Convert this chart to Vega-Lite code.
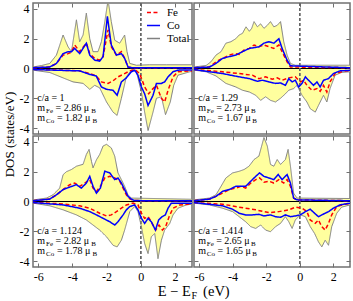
{
"$schema":"https://vega.github.io/schema/vega-lite/v6.json",
"padding":{"left":2,"top":1,"right":0,"bottom":0},
"config":{
 "font":"Liberation Serif",
 "text":{"font":"Liberation Serif","color":"#000"},
 "view":{"stroke":"#707070","strokeWidth":1.5},
 "axis":{"domain":false,"grid":false,"tickColor":"#707070","tickSize":-4,"tickWidth":1,"labelFont":"Liberation Serif","labelFontSize":12,"labelColor":"#000","labelPadding":8,"titleFont":"Liberation Serif","titleFontWeight":"normal","titleFontSize":13,"titleColor":"#000","labelExpr":"replace(datum.label, '\u2212', '-')"},
 "legend":{"symbolType":"stroke","symbolSize":170,"symbolStrokeWidth":1.5,"labelFont":"Liberation Serif","labelFontSize":11,"labelColor":"#000","offset":2,"padding":0,"rowPadding":0,"labelOffset":6}
},
"datasets":{
"tl":[
{"s":"Total","k":"u","x":[-6.3,-5.8,-5.32,-4.93,-4.54,-4.25,-4.05,-3.76,-3.57,-3.37,-3.18,-2.98,-2.79,-2.5,-2.3,-2.1,-1.91,-1.72,-1.52,-1.23,-0.94,-0.8,-0.64,-0.25,0.5,1.5,3.0],"y":[0.1,0.2,0.34,0.9,2.25,1.46,1.13,3.27,1.8,2.25,3.72,2.0,1.13,1.13,1.8,3.15,4.6,3.15,1.9,1.7,2.25,1.13,0.34,0.22,0.25,0.25,0.25]},
{"s":"Total","k":"d","x":[-6.3,-5.32,-4.54,-3.96,-3.37,-2.98,-2.69,-2.4,-2.0,-1.62,-1.38,-1.13,-0.84,-0.55,-0.25,0.04,0.23,0.43,0.72,0.92,1.21,1.45,1.73,1.93,2.18,2.87,3.0],"y":[-0.11,-0.27,-0.63,-0.9,-1.0,-1.4,-1.13,-1.3,-2.25,-2.93,-3.15,-2.0,-0.56,-0.11,-0.22,-1.58,-2.93,-4.17,-2.93,-2.0,-1.9,-3.1,-2.25,-1.13,-0.45,-0.22,-0.2]},
{"s":"Fe","k":"u","x":[-6.3,-5.32,-4.93,-4.54,-4.25,-4.05,-3.86,-3.57,-3.18,-2.98,-2.69,-2.4,-2.2,-1.91,-1.72,-1.42,-1.13,-0.94,-0.74,-0.5,3.0],"y":[0.05,0.1,0.34,0.9,1.0,1.1,1.58,1.13,1.7,1.0,0.68,0.56,0.8,2.6,1.46,0.9,1.13,0.68,0.1,0.05,0.05]},
{"s":"Fe","k":"d","x":[-6.3,-3.57,-2.98,-2.6,-2.3,-1.91,-1.62,-1.33,-1.03,-0.64,-0.35,-0.06,0.23,0.47,0.68,0.92,1.21,1.4,1.6,1.89,2.18,2.87,3.0],"y":[-0.05,-0.16,-0.34,-0.5,-0.9,-1.0,-0.83,-0.56,-0.4,-0.16,-0.07,-0.34,-1.24,-1.7,-1.4,-1.13,-2.0,-2.25,-1.46,-0.56,-0.22,-0.16,-0.16]},
{"s":"Co","k":"u","x":[-6.3,-5.32,-4.93,-4.54,-4.25,-4.05,-3.86,-3.57,-3.18,-2.98,-2.69,-2.4,-2.2,-1.95,-1.72,-1.42,-1.13,-0.94,-0.74,-0.5,3.0],"y":[0.05,0.1,0.34,1.0,1.13,1.13,1.35,1.0,1.7,0.9,0.56,0.5,0.8,3.5,1.58,0.9,1.0,0.68,0.1,0.05,0.05]},
{"s":"Co","k":"d","x":[-6.3,-3.57,-2.98,-2.6,-2.3,-2.0,-1.62,-1.38,-1.13,-0.84,-0.55,-0.35,-0.16,0.04,0.23,0.43,0.72,0.92,1.21,1.4,1.6,1.89,2.18,3.0],"y":[-0.07,-0.16,-0.4,-0.5,-1.24,-1.4,-1.46,-1.8,-0.9,-0.63,-0.22,-0.11,-0.45,-1.24,-1.7,-2.48,-1.8,-1.0,-1.0,-0.9,-0.56,-0.22,-0.11,-0.1]}
],
"tr":[
{"s":"Total","k":"u","x":[-6.3,-5.58,-5.29,-4.99,-4.69,-4.4,-4.1,-3.81,-3.61,-3.41,-3.2,-3.0,-2.86,-2.72,-2.52,-2.33,-2.13,-1.93,-1.74,-1.54,-1.34,-1.14,-0.95,-0.75,-0.55,-0.26,3.0],"y":[0.1,0.2,0.45,0.9,1.13,1.7,1.8,2.0,2.25,2.36,2.8,2.5,2.7,3.15,2.8,3.0,2.7,2.9,3.15,2.8,2.9,3.15,1.8,0.9,0.34,0.22,0.22]},
{"s":"Total","k":"d","x":[-6.3,-5.58,-4.99,-4.4,-3.81,-3.41,-3.0,-2.62,-2.33,-2.03,-1.74,-1.44,-1.14,-0.85,-0.65,-0.36,-0.16,0.14,0.43,0.63,0.93,1.12,1.42,1.62,1.81,2.11,2.5,3.0],"y":[-0.11,-0.22,-0.5,-1.0,-1.24,-1.46,-1.58,-1.8,-2.14,-1.9,-2.14,-2.25,-2.0,-1.7,-1.46,-1.35,-1.13,-1.8,-2.25,-2.7,-2.93,-2.48,-1.8,-2.25,-1.35,-0.45,-0.27,-0.22]},
{"s":"Fe","k":"u","x":[-6.3,-5.38,-4.99,-4.6,-4.2,-3.9,-3.61,-3.31,-3.0,-2.72,-2.43,-2.13,-1.83,-1.54,-1.24,-1.05,-0.75,-0.55,3.0],"y":[0.05,0.1,0.45,0.68,0.9,1.0,0.95,1.24,1.35,1.58,1.46,1.58,1.46,1.35,1.58,1.13,0.45,0.1,0.05]},
{"s":"Fe","k":"d","x":[-6.3,-4.6,-3.61,-2.82,-2.43,-2.03,-1.64,-1.34,-1.05,-0.65,-0.26,0.04,0.24,0.43,0.73,1.03,1.22,1.42,1.62,1.81,2.11,2.7,3.0],"y":[-0.07,-0.22,-0.34,-0.45,-0.68,-0.56,-0.72,-0.63,-0.79,-0.63,-0.56,-0.9,-0.79,-1.13,-1.46,-1.35,-1.53,-1.13,-1.58,-0.9,-0.34,-0.16,-0.15]},
{"s":"Co","k":"u","x":[-6.3,-5.38,-4.99,-4.6,-4.2,-3.81,-3.41,-3.0,-2.72,-2.43,-2.13,-1.83,-1.54,-1.24,-1.05,-0.75,-0.55,3.0],"y":[0.05,0.1,0.34,0.68,0.8,0.9,1.13,1.35,1.4,1.46,1.7,1.8,1.7,2.0,1.35,0.56,0.18,0.05]},
{"s":"Co","k":"d","x":[-6.3,-4.6,-3.61,-3.0,-2.52,-2.23,-1.83,-1.44,-1.14,-0.85,-0.65,-0.45,-0.26,-0.06,0.14,0.34,0.53,0.83,1.03,1.22,1.42,1.72,2.01,2.4,3.0],"y":[-0.07,-0.34,-0.56,-0.68,-0.86,-0.79,-0.9,-1.0,-0.97,-1.13,-0.68,-0.9,-0.79,-1.24,-1.0,-0.56,-0.79,-1.13,-0.9,-1.24,-0.79,-0.68,-0.34,-0.16,-0.12]}
],
"bl":[
{"s":"Total","k":"u","x":[-6.3,-5.52,-5.13,-4.74,-4.54,-4.35,-4.05,-3.76,-3.37,-3.18,-3.02,-2.88,-2.79,-2.59,-2.4,-2.2,-2.0,-1.72,-1.52,-1.33,-1.13,-0.94,-0.74,-0.55,3.0],"y":[0.1,0.23,0.45,0.9,1.8,2.0,2.15,2.37,2.5,3.16,3.5,2.7,2.26,2.8,3.16,3.73,3.84,3.6,3.05,1.92,1.47,1.02,0.45,0.23,0.15]},
{"s":"Total","k":"d","x":[-6.3,-5.32,-4.54,-3.76,-3.18,-2.79,-2.4,-2.0,-1.62,-1.38,-1.13,-0.94,-0.64,-0.35,-0.16,0.04,0.23,0.43,0.62,0.82,1.01,1.21,1.4,1.7,1.89,2.18,2.67,3.0],"y":[-0.11,-0.29,-0.56,-0.9,-1.24,-1.58,-1.92,-2.37,-2.94,-3.05,-2.6,-1.92,-0.68,-0.34,-0.68,-1.69,-2.82,-3.5,-2.37,-2.15,-3.84,-2.6,-1.92,-1.47,-0.9,-0.45,-0.23,-0.18]},
{"s":"Fe","k":"u","x":[-6.3,-5.32,-4.93,-4.54,-4.15,-3.86,-3.57,-3.27,-2.98,-2.79,-2.59,-2.36,-2.1,-1.81,-1.52,-1.23,-1.03,-0.84,-0.64,-0.4,3.0],"y":[0.05,0.16,0.45,0.8,1.13,1.24,1.02,1.24,1.47,0.9,0.68,1.02,1.58,1.69,1.58,1.36,0.9,0.45,0.18,0.06,0.05]},
{"s":"Fe","k":"d","x":[-6.3,-4.54,-3.57,-2.98,-2.4,-2.0,-1.72,-1.42,-1.13,-0.84,-0.45,-0.16,0.04,0.23,0.43,0.62,0.88,1.07,1.27,1.46,1.66,1.89,2.28,3.0],"y":[-0.07,-0.16,-0.29,-0.45,-0.79,-0.97,-0.9,-0.68,-0.45,-0.23,-0.11,-0.23,-0.79,-1.13,-1.02,-1.36,-1.92,-1.58,-1.92,-1.69,-1.02,-0.45,-0.23,-0.16]},
{"s":"Co","k":"u","x":[-6.3,-5.32,-4.93,-4.54,-4.15,-3.76,-3.47,-3.18,-2.98,-2.79,-2.59,-2.36,-2.1,-1.81,-1.52,-1.33,-1.13,-0.94,-0.74,-0.55,-0.35,3.0],"y":[0.05,0.16,0.45,0.8,0.97,1.13,0.9,1.24,1.69,1.02,0.56,0.9,2.03,1.92,1.47,1.58,1.24,0.8,0.34,0.16,0.06,0.05]},
{"s":"Co","k":"d","x":[-6.3,-4.54,-3.57,-2.98,-2.59,-2.2,-1.81,-1.52,-1.33,-1.03,-0.84,-0.64,-0.35,-0.16,0.04,0.23,0.43,0.62,0.86,1.05,1.25,1.44,1.6,1.79,2.09,3.0],"y":[-0.07,-0.23,-0.45,-0.68,-0.9,-1.13,-1.36,-1.58,-1.36,-0.9,-0.56,-0.34,-0.23,-0.56,-1.13,-1.47,-1.13,-1.36,-1.92,-1.24,-1.02,-0.9,-0.45,-0.11,-0.11,-0.11]}
],
"br":[
{"s":"Total","k":"u","x":[-6.3,-5.38,-4.99,-4.69,-4.4,-4.0,-3.61,-3.31,-3.02,-2.72,-2.43,-2.13,-1.93,-1.74,-1.54,-1.34,-1.14,-0.85,-0.69,-0.55,-0.36,-0.16,3.0],"y":[0.11,0.23,0.45,1.02,1.58,1.92,2.03,2.15,2.37,2.82,3.05,4.3,3.73,2.49,2.37,2.82,2.49,2.82,3.5,2.37,0.56,0.23,0.2]},
{"s":"Total","k":"d","x":[-6.3,-5.38,-4.6,-4.0,-3.61,-3.22,-2.92,-2.62,-2.33,-2.03,-1.74,-1.44,-1.14,-0.85,-0.65,-0.45,-0.26,0.04,0.34,0.63,0.89,1.12,1.32,1.52,1.72,1.91,2.21,2.5,3.0],"y":[-0.11,-0.23,-0.45,-0.68,-1.02,-1.36,-1.69,-1.81,-1.58,-1.92,-2.03,-1.69,-1.47,-1.02,-1.36,-1.81,-1.24,-0.9,-1.02,-1.69,-2.15,-2.71,-3.05,-2.6,-2.94,-1.69,-0.79,-0.38,-0.23]},
{"s":"Fe","k":"u","x":[-6.3,-5.38,-4.99,-4.6,-4.2,-3.81,-3.51,-3.22,-2.92,-2.62,-2.39,-2.13,-1.83,-1.54,-1.24,-0.95,-0.75,-0.55,-0.36,-0.16,3.0],"y":[0.05,0.16,0.34,0.56,0.8,0.9,1.02,0.9,1.24,1.47,1.58,1.3,1.36,1.24,1.47,1.24,1.47,1.02,0.23,0.11,0.05]},
{"s":"Fe","k":"d","x":[-6.3,-4.6,-3.61,-2.62,-1.83,-1.24,-0.65,-0.26,0.14,0.43,0.63,0.93,1.12,1.32,1.52,1.72,1.91,2.21,2.7,3.0],"y":[-0.07,-0.18,-0.38,-0.56,-0.75,-0.68,-0.56,-0.38,-0.45,-0.68,-1.24,-1.47,-1.24,-1.69,-1.92,-1.47,-0.9,-0.34,-0.18,-0.15]},
{"s":"Co","k":"u","x":[-6.3,-5.38,-4.99,-4.6,-4.2,-3.81,-3.51,-3.22,-2.92,-2.62,-2.39,-2.13,-1.83,-1.54,-1.28,-1.05,-0.75,-0.55,-0.36,-0.16,3.0],"y":[0.05,0.16,0.34,0.68,0.8,1.02,1.02,1.02,1.36,1.69,1.92,1.69,1.58,1.47,1.81,1.47,1.81,1.24,0.23,0.11,0.05]},
{"s":"Co","k":"d","x":[-6.3,-4.6,-4.0,-3.61,-3.22,-2.82,-2.43,-2.13,-1.74,-1.44,-1.14,-0.85,-0.55,-0.26,0.04,0.34,0.63,0.89,1.12,1.32,1.52,1.72,2.01,2.4,3.0],"y":[-0.07,-0.29,-0.52,-0.79,-0.9,-0.9,-0.86,-0.97,-0.9,-1.02,-1.06,-0.9,-1.02,-0.97,-0.9,-0.68,-0.52,-0.79,-1.02,-0.9,-0.79,-0.68,-0.45,-0.23,-0.11]}
],
"ann":[
{"p":"tl","z":0,"t":"c/a = 1","tx":-6.05,"ty":-2.2},
{"p":"tl","z":0,"t":"m","tx":-6.05,"ty":-2.88},
{"p":"tl","z":1,"t":"Fe","tx":-5.54,"ty":-2.88},
{"p":"tl","z":0,"t":"= 2.86 μ","tx":-4.98,"ty":-2.88},
{"p":"tl","z":1,"t":"B","tx":-2.9,"ty":-2.88},
{"p":"tl","z":0,"t":"m","tx":-6.05,"ty":-3.56},
{"p":"tl","z":1,"t":"Co","tx":-5.54,"ty":-3.56},
{"p":"tl","z":0,"t":"= 1.82 μ","tx":-4.9,"ty":-3.56},
{"p":"tl","z":1,"t":"B","tx":-2.82,"ty":-3.56},
{"p":"tr","z":0,"t":"c/a = 1.29","tx":-6.05,"ty":-2.2},
{"p":"tr","z":0,"t":"m","tx":-6.05,"ty":-2.88},
{"p":"tr","z":1,"t":"Fe","tx":-5.54,"ty":-2.88},
{"p":"tr","z":0,"t":"= 2.73 μ","tx":-4.98,"ty":-2.88},
{"p":"tr","z":1,"t":"B","tx":-2.9,"ty":-2.88},
{"p":"tr","z":0,"t":"m","tx":-6.05,"ty":-3.56},
{"p":"tr","z":1,"t":"Co","tx":-5.54,"ty":-3.56},
{"p":"tr","z":0,"t":"= 1.67 μ","tx":-4.9,"ty":-3.56},
{"p":"tr","z":1,"t":"B","tx":-2.82,"ty":-3.56},
{"p":"bl","z":0,"t":"c/a = 1.124","tx":-6.05,"ty":-2.2},
{"p":"bl","z":0,"t":"m","tx":-6.05,"ty":-2.88},
{"p":"bl","z":1,"t":"Fe","tx":-5.54,"ty":-2.88},
{"p":"bl","z":0,"t":"= 2.82 μ","tx":-4.98,"ty":-2.88},
{"p":"bl","z":1,"t":"B","tx":-2.9,"ty":-2.88},
{"p":"bl","z":0,"t":"m","tx":-6.05,"ty":-3.56},
{"p":"bl","z":1,"t":"Co","tx":-5.54,"ty":-3.56},
{"p":"bl","z":0,"t":"= 1.78 μ","tx":-4.9,"ty":-3.56},
{"p":"bl","z":1,"t":"B","tx":-2.82,"ty":-3.56},
{"p":"br","z":0,"t":"c/a = 1.414","tx":-6.05,"ty":-2.2},
{"p":"br","z":0,"t":"m","tx":-6.05,"ty":-2.88},
{"p":"br","z":1,"t":"Fe","tx":-5.54,"ty":-2.88},
{"p":"br","z":0,"t":"= 2.65 μ","tx":-4.98,"ty":-2.88},
{"p":"br","z":1,"t":"B","tx":-2.9,"ty":-2.88},
{"p":"br","z":0,"t":"m","tx":-6.05,"ty":-3.56},
{"p":"br","z":1,"t":"Co","tx":-5.54,"ty":-3.56},
{"p":"br","z":0,"t":"= 1.65 μ","tx":-4.9,"ty":-3.56},
{"p":"br","z":1,"t":"B","tx":-2.82,"ty":-3.56},
{"p":"bl","z":2,"t":"E − E","tx":0.99,"ty":-6.35},
{"p":"bl","z":3,"t":"F","tx":2.97,"ty":-6.35},
{"p":"bl","z":2,"t":"(eV)","tx":3.65,"ty":-6.35}
]
},
"concat":[
{"width":159,"height":131,"data":{"name":"tl"},
 "layer":[
  {"transform":[{"filter":"datum.s=='Total'"},{"flatten":["x","y"]}],"mark":{"type":"area","fill":"#ffff9e","clip":true},
   "encoding":{"x":{"field":"x","type":"quantitative","scale":{"domain":[-6.3,3],"nice":false,"zero":false},"axis":{"orient":"bottom","values":[-6,-4,-2,0,2],"labels":false,"title":null}},
    "y":{"field":"y","type":"quantitative","stack":null,"scale":{"domain":[-4.4,4.4],"nice":false},"axis":{"orient":"left","values":[-4,-2,0,2,4],"title":"DOS (states/eV)","titleAnchor":"start","titleAlign":"center","titlePadding":3}},
    "detail":{"field":"k"}}},
  {"mark":{"type":"rule","color":"#000","strokeWidth":1},"encoding":{"y":{"datum":0,"axis":null}}},
  {"mark":{"type":"rule","color":"#666","strokeDash":[3,2],"strokeWidth":1},"encoding":{"x":{"datum":0,"axis":null}}},
  {"transform":[{"filter":"datum.s=='Total'"},{"flatten":["x","y"]}],"mark":{"type":"line","clip":true,"strokeWidth":1},
   "encoding":{"x":{"field":"x","type":"quantitative","axis":null},"y":{"field":"y","type":"quantitative","axis":null},"detail":{"field":"k"},
    "color":{"field":"s","type":"nominal","title":null,"scale":{"domain":["Fe","Co","Total"],"range":["#ff0000","#0000ff","#808080"]},"legend":{"orient":"top-right"}},
    "strokeDash":{"field":"s","type":"nominal","title":null,"scale":{"domain":["Fe","Co","Total"],"range":[[4,2.5],[1,0],[1,0]]},"legend":{"orient":"top-right"}}}},
  {"transform":[{"filter":"datum.s!='Total'"},{"flatten":["x","y"]}],"mark":{"type":"line","clip":true,"strokeWidth":1.5},
   "encoding":{"x":{"field":"x","type":"quantitative","axis":{"orient":"top","values":[-6,-4,-2,0,2],"labels":false,"title":null}},"y":{"field":"y","type":"quantitative","axis":{"orient":"right","values":[-4,-2,0,2,4],"labels":false,"title":null}},"detail":{"field":"k"},
    "color":{"field":"s","type":"nominal","title":null,"scale":{"domain":["Fe","Co","Total"],"range":["#ff0000","#0000ff","#808080"]},"legend":{"orient":"top-right"}},
    "strokeDash":{"field":"s","type":"nominal","title":null,"scale":{"domain":["Fe","Co","Total"],"range":[[4,2.5],[1,0],[1,0]]},"legend":{"orient":"top-right"}}}},
  {"data":{"name":"ann"},"transform":[{"filter":"datum.p=='tl' && datum.z==0"}],"mark":{"type":"text","align":"left","baseline":"alphabetic","fontSize":10,"font":"Liberation Serif"},
   "encoding":{"x":{"field":"tx","type":"quantitative","axis":null},"y":{"field":"ty","type":"quantitative","axis":null},"text":{"field":"t"}}},
  {"data":{"name":"ann"},"transform":[{"filter":"datum.p=='tl' && datum.z==1"}],"mark":{"type":"text","align":"left","baseline":"alphabetic","fontSize":7,"dy":2,"font":"Liberation Serif"},
   "encoding":{"x":{"field":"tx","type":"quantitative","axis":null},"y":{"field":"ty","type":"quantitative","axis":null},"text":{"field":"t"}}}
 ],
 "resolve":{"axis":{"x":"independent","y":"independent"}}},
{"width":156,"height":131,"data":{"name":"tr"},
 "layer":[
  {"transform":[{"filter":"datum.s=='Total'"},{"flatten":["x","y"]}],"mark":{"type":"area","fill":"#ffff9e","clip":true},
   "encoding":{"x":{"field":"x","type":"quantitative","scale":{"domain":[-6.3,3],"nice":false,"zero":false},"axis":{"orient":"bottom","values":[-6,-4,-2,0,2],"labels":false,"title":null}},
    "y":{"field":"y","type":"quantitative","stack":null,"scale":{"domain":[-4.4,4.4],"nice":false},"axis":{"orient":"left","values":[-4,-2,0,2,4],"labels":false,"title":null}},
    "detail":{"field":"k"}}},
  {"mark":{"type":"rule","color":"#000","strokeWidth":1},"encoding":{"y":{"datum":0,"axis":null}}},
  {"mark":{"type":"rule","color":"#666","strokeDash":[3,2],"strokeWidth":1},"encoding":{"x":{"datum":0,"axis":null}}},
  {"transform":[{"filter":"datum.s=='Total'"},{"flatten":["x","y"]}],"mark":{"type":"line","clip":true,"strokeWidth":1},
   "encoding":{"x":{"field":"x","type":"quantitative","axis":null},"y":{"field":"y","type":"quantitative","axis":null},"detail":{"field":"k"},
    "color":{"field":"s","type":"nominal","scale":{"domain":["Fe","Co","Total"],"range":["#ff0000","#0000ff","#808080"]},"legend":null},
    "strokeDash":{"field":"s","type":"nominal","scale":{"domain":["Fe","Co","Total"],"range":[[4,2.5],[1,0],[1,0]]},"legend":null}}},
  {"transform":[{"filter":"datum.s!='Total'"},{"flatten":["x","y"]}],"mark":{"type":"line","clip":true,"strokeWidth":1.5},
   "encoding":{"x":{"field":"x","type":"quantitative","axis":{"orient":"top","values":[-6,-4,-2,0,2],"labels":false,"title":null}},"y":{"field":"y","type":"quantitative","axis":{"orient":"right","values":[-4,-2,0,2,4],"labels":false,"title":null}},"detail":{"field":"k"},
    "color":{"field":"s","type":"nominal","scale":{"domain":["Fe","Co","Total"],"range":["#ff0000","#0000ff","#808080"]},"legend":null},
    "strokeDash":{"field":"s","type":"nominal","scale":{"domain":["Fe","Co","Total"],"range":[[4,2.5],[1,0],[1,0]]},"legend":null}}},
  {"data":{"name":"ann"},"transform":[{"filter":"datum.p=='tr' && datum.z==0"}],"mark":{"type":"text","align":"left","baseline":"alphabetic","fontSize":10,"font":"Liberation Serif"},
   "encoding":{"x":{"field":"tx","type":"quantitative","axis":null},"y":{"field":"ty","type":"quantitative","axis":null},"text":{"field":"t"}}},
  {"data":{"name":"ann"},"transform":[{"filter":"datum.p=='tr' && datum.z==1"}],"mark":{"type":"text","align":"left","baseline":"alphabetic","fontSize":7,"dy":2,"font":"Liberation Serif"},
   "encoding":{"x":{"field":"tx","type":"quantitative","axis":null},"y":{"field":"ty","type":"quantitative","axis":null},"text":{"field":"t"}}}
 ],
 "resolve":{"axis":{"x":"independent","y":"independent"}}},
{"width":159,"height":131,"data":{"name":"bl"},
 "layer":[
  {"transform":[{"filter":"datum.s=='Total'"},{"flatten":["x","y"]}],"mark":{"type":"area","fill":"#ffff9e","clip":true},
   "encoding":{"x":{"field":"x","type":"quantitative","scale":{"domain":[-6.3,3],"nice":false,"zero":false},"axis":{"orient":"bottom","values":[-6,-4,-2,0,2],"labels":true,"title":null}},
    "y":{"field":"y","type":"quantitative","stack":null,"scale":{"domain":[-4.4,4.4],"nice":false},"axis":{"orient":"left","values":[-4,-2,0,2,4],"labels":true,"title":null}},
    "detail":{"field":"k"}}},
  {"mark":{"type":"rule","color":"#000","strokeWidth":1},"encoding":{"y":{"datum":0,"axis":null}}},
  {"mark":{"type":"rule","color":"#666","strokeDash":[3,2],"strokeWidth":1},"encoding":{"x":{"datum":0,"axis":null}}},
  {"transform":[{"filter":"datum.s=='Total'"},{"flatten":["x","y"]}],"mark":{"type":"line","clip":true,"strokeWidth":1},
   "encoding":{"x":{"field":"x","type":"quantitative","axis":null},"y":{"field":"y","type":"quantitative","axis":null},"detail":{"field":"k"},
    "color":{"field":"s","type":"nominal","scale":{"domain":["Fe","Co","Total"],"range":["#ff0000","#0000ff","#808080"]},"legend":null},
    "strokeDash":{"field":"s","type":"nominal","scale":{"domain":["Fe","Co","Total"],"range":[[4,2.5],[1,0],[1,0]]},"legend":null}}},
  {"transform":[{"filter":"datum.s!='Total'"},{"flatten":["x","y"]}],"mark":{"type":"line","clip":true,"strokeWidth":1.5},
   "encoding":{"x":{"field":"x","type":"quantitative","axis":{"orient":"top","values":[-6,-4,-2,0,2],"labels":false,"title":null}},"y":{"field":"y","type":"quantitative","axis":{"orient":"right","values":[-4,-2,0,2,4],"labels":false,"title":null}},"detail":{"field":"k"},
    "color":{"field":"s","type":"nominal","scale":{"domain":["Fe","Co","Total"],"range":["#ff0000","#0000ff","#808080"]},"legend":null},
    "strokeDash":{"field":"s","type":"nominal","scale":{"domain":["Fe","Co","Total"],"range":[[4,2.5],[1,0],[1,0]]},"legend":null}}},
  {"data":{"name":"ann"},"transform":[{"filter":"datum.p=='bl' && datum.z==0"}],"mark":{"type":"text","align":"left","baseline":"alphabetic","fontSize":10,"font":"Liberation Serif"},
   "encoding":{"x":{"field":"tx","type":"quantitative","axis":null},"y":{"field":"ty","type":"quantitative","axis":null},"text":{"field":"t"}}},
  {"data":{"name":"ann"},"transform":[{"filter":"datum.p=='bl' && datum.z==1"}],"mark":{"type":"text","align":"left","baseline":"alphabetic","fontSize":7,"dy":2,"font":"Liberation Serif"},
   "encoding":{"x":{"field":"tx","type":"quantitative","axis":null},"y":{"field":"ty","type":"quantitative","axis":null},"text":{"field":"t"}}},
  {"data":{"name":"ann"},"transform":[{"filter":"datum.p=='bl' && datum.z==2"}],"mark":{"type":"text","align":"left","baseline":"alphabetic","fontSize":14.5,"font":"Liberation Serif"},
   "encoding":{"x":{"field":"tx","type":"quantitative","axis":null},"y":{"field":"ty","type":"quantitative","axis":null},"text":{"field":"t"}}},
  {"data":{"name":"ann"},"transform":[{"filter":"datum.p=='bl' && datum.z==3"}],"mark":{"type":"text","align":"left","baseline":"alphabetic","fontSize":10,"dy":3,"font":"Liberation Serif"},
   "encoding":{"x":{"field":"tx","type":"quantitative","axis":null},"y":{"field":"ty","type":"quantitative","axis":null},"text":{"field":"t"}}}
 ],
 "resolve":{"axis":{"x":"independent","y":"independent"}}},
{"width":156,"height":131,"data":{"name":"br"},
 "layer":[
  {"transform":[{"filter":"datum.s=='Total'"},{"flatten":["x","y"]}],"mark":{"type":"area","fill":"#ffff9e","clip":true},
   "encoding":{"x":{"field":"x","type":"quantitative","scale":{"domain":[-6.3,3],"nice":false,"zero":false},"axis":{"orient":"bottom","values":[-6,-4,-2,0,2],"labels":true,"title":null}},
    "y":{"field":"y","type":"quantitative","stack":null,"scale":{"domain":[-4.4,4.4],"nice":false},"axis":{"orient":"left","values":[-4,-2,0,2,4],"labels":false,"title":null}},
    "detail":{"field":"k"}}},
  {"mark":{"type":"rule","color":"#000","strokeWidth":1},"encoding":{"y":{"datum":0,"axis":null}}},
  {"mark":{"type":"rule","color":"#666","strokeDash":[3,2],"strokeWidth":1},"encoding":{"x":{"datum":0,"axis":null}}},
  {"transform":[{"filter":"datum.s=='Total'"},{"flatten":["x","y"]}],"mark":{"type":"line","clip":true,"strokeWidth":1},
   "encoding":{"x":{"field":"x","type":"quantitative","axis":null},"y":{"field":"y","type":"quantitative","axis":null},"detail":{"field":"k"},
    "color":{"field":"s","type":"nominal","scale":{"domain":["Fe","Co","Total"],"range":["#ff0000","#0000ff","#808080"]},"legend":null},
    "strokeDash":{"field":"s","type":"nominal","scale":{"domain":["Fe","Co","Total"],"range":[[4,2.5],[1,0],[1,0]]},"legend":null}}},
  {"transform":[{"filter":"datum.s!='Total'"},{"flatten":["x","y"]}],"mark":{"type":"line","clip":true,"strokeWidth":1.5},
   "encoding":{"x":{"field":"x","type":"quantitative","axis":{"orient":"top","values":[-6,-4,-2,0,2],"labels":false,"title":null}},"y":{"field":"y","type":"quantitative","axis":{"orient":"right","values":[-4,-2,0,2,4],"labels":false,"title":null}},"detail":{"field":"k"},
    "color":{"field":"s","type":"nominal","scale":{"domain":["Fe","Co","Total"],"range":["#ff0000","#0000ff","#808080"]},"legend":null},
    "strokeDash":{"field":"s","type":"nominal","scale":{"domain":["Fe","Co","Total"],"range":[[4,2.5],[1,0],[1,0]]},"legend":null}}},
  {"data":{"name":"ann"},"transform":[{"filter":"datum.p=='br' && datum.z==0"}],"mark":{"type":"text","align":"left","baseline":"alphabetic","fontSize":10,"font":"Liberation Serif"},
   "encoding":{"x":{"field":"tx","type":"quantitative","axis":null},"y":{"field":"ty","type":"quantitative","axis":null},"text":{"field":"t"}}},
  {"data":{"name":"ann"},"transform":[{"filter":"datum.p=='br' && datum.z==1"}],"mark":{"type":"text","align":"left","baseline":"alphabetic","fontSize":7,"dy":2,"font":"Liberation Serif"},
   "encoding":{"x":{"field":"tx","type":"quantitative","axis":null},"y":{"field":"ty","type":"quantitative","axis":null},"text":{"field":"t"}}}
 ],
 "resolve":{"axis":{"x":"independent","y":"independent"}}}
],
"columns":2,
"spacing":2,
"bounds":"flush",
"resolve":{"scale":{"color":"independent","strokeDash":"independent"}}
}
